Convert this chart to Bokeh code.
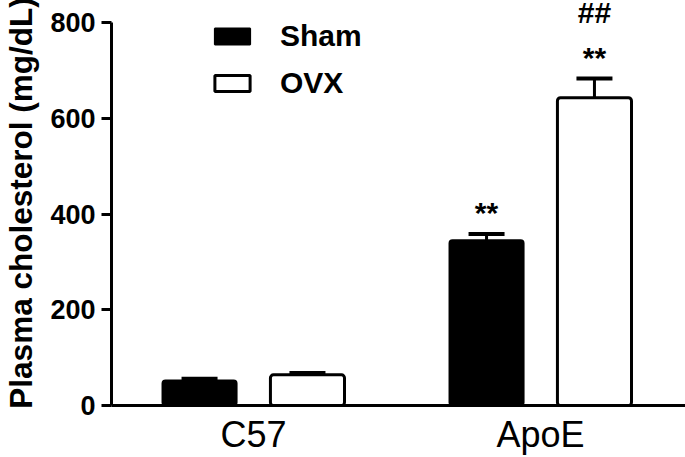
from bokeh.plotting import figure
from bokeh.models import (ColumnDataSource, Range1d, FixedTicker, Whisker, TeeHead,
                          Legend, LegendItem)
from bokeh.core.properties import value
from bokeh.embed import file_html
from bokeh.resources import INLINE

groups = ["C57", "ApoE"]
series = ["Sham", "OVX"]
sham_mean = [52, 345]
sham_err = [4, 13]
ovx_mean = [64, 643]
ovx_err = [4, 40]
sham_sig = ["", "**"]
ovx_sig = ["", "**"]
ovx_hash = ["", "##"]
y_ticks = [0, 200, 400, 600, 800]

FONT = value("Liberation Sans")
offset = 0.188
bw = 0.258
px_per_group = 287.0
frame_w = 576
x0 = -(251 - 109) / px_per_group
x1 = x0 + frame_w / px_per_group

p = figure(frame_width=frame_w, frame_height=405, output_backend="svg", toolbar_location=None,
           x_range=Range1d(x0, x1), y_range=Range1d(0, 846),
           min_border_left=109, min_border_top=0, min_border_right=0, min_border_bottom=0)
p.outline_line_color = None
p.xgrid.grid_line_color = None
p.ygrid.grid_line_color = None
p.background_fill_color = "white"
p.border_fill_color = "white"

xs = list(range(len(groups)))
sham_src = ColumnDataSource(dict(
    x=[i - offset for i in xs], top=sham_mean,
    up=[m + e for m, e in zip(sham_mean, sham_err)], sig=sham_sig,
    sy=[m + e + 46 for m, e in zip(sham_mean, sham_err)]))
ovx_src = ColumnDataSource(dict(
    x=[i + offset for i in xs], top=ovx_mean,
    up=[m + e for m, e in zip(ovx_mean, ovx_err)], sig=ovx_sig, hs=ovx_hash,
    sy=[m + e + 44 for m, e in zip(ovx_mean, ovx_err)],
    hy=[m + e + 137 for m, e in zip(ovx_mean, ovx_err)]))

r_sham = p.vbar(x="x", top="top", bottom=0, width=bw, source=sham_src,
                fill_color="black", line_color="black", line_width=2, border_radius=3)
r_ovx = p.vbar(x="x", top="top", bottom=0, width=bw, source=ovx_src,
               fill_color="white", line_color="black", line_width=3, border_radius=3)

for src in (sham_src, ovx_src):
    w = Whisker(base="x", lower="top", upper="up", source=src, line_width=3,
                line_color="black",
                upper_head=TeeHead(size=36, line_width=4, line_color="black"),
                lower_head=None)
    p.add_layout(w)

for src, col, ycol in ((sham_src, "sig", "sy"), (ovx_src, "sig", "sy"), (ovx_src, "hs", "hy")):
    p.text(x="x", y=ycol, text=col, source=src, text_font=FONT, text_font_style="bold",
           text_font_size="30px", text_align="center", text_baseline="alphabetic",
           text_color="black")

# axes
p.yaxis.ticker = FixedTicker(ticks=y_ticks)
p.yaxis.bounds = (0, 800)
p.yaxis.axis_line_width = 3
p.yaxis.major_tick_line_width = 3
p.yaxis.major_tick_out = 10
p.yaxis.major_tick_in = 0
p.yaxis.minor_tick_line_color = None
p.yaxis.major_label_text_font = "Liberation Sans"
p.yaxis.major_label_text_font_style = "bold"
p.yaxis.major_label_text_font_size = "27px"
p.yaxis.major_label_text_color = "black"
p.yaxis.major_label_standoff = 6
p.yaxis.axis_label = "Plasma cholesterol (mg/dL)"
p.yaxis.axis_label_text_font = "Liberation Sans"
p.yaxis.axis_label_text_font_style = "bold"
p.yaxis.axis_label_text_font_size = "31.5px"
p.yaxis.axis_label_text_color = "black"
p.yaxis.axis_label_standoff = 8

p.xaxis.ticker = FixedTicker(ticks=xs)
p.xaxis.major_label_overrides = {i: g for i, g in enumerate(groups)}
p.xaxis.axis_line_width = 3
p.xaxis.major_tick_line_color = None
p.xaxis.minor_tick_line_color = None
p.xaxis.major_label_text_font = "Liberation Sans"
p.xaxis.major_label_text_font_size = "36px"
p.xaxis.major_label_text_color = "black"
p.xaxis.major_label_standoff = 2

legend = Legend(items=[LegendItem(label=series[0], renderers=[r_sham]),
                       LegendItem(label=series[1], renderers=[r_ovx])],
                location=(99, 305), orientation="vertical",
                glyph_width=44, glyph_height=20, label_height=22, label_standoff=26,
                spacing=13, padding=0, margin=0,
                label_text_font="Liberation Sans", label_text_font_style="bold",
                label_text_font_size="30px", label_text_color="black",
                border_line_color=None, background_fill_alpha=0)
p.add_layout(legend)

open("out.html", "w").write(file_html(p, INLINE))
